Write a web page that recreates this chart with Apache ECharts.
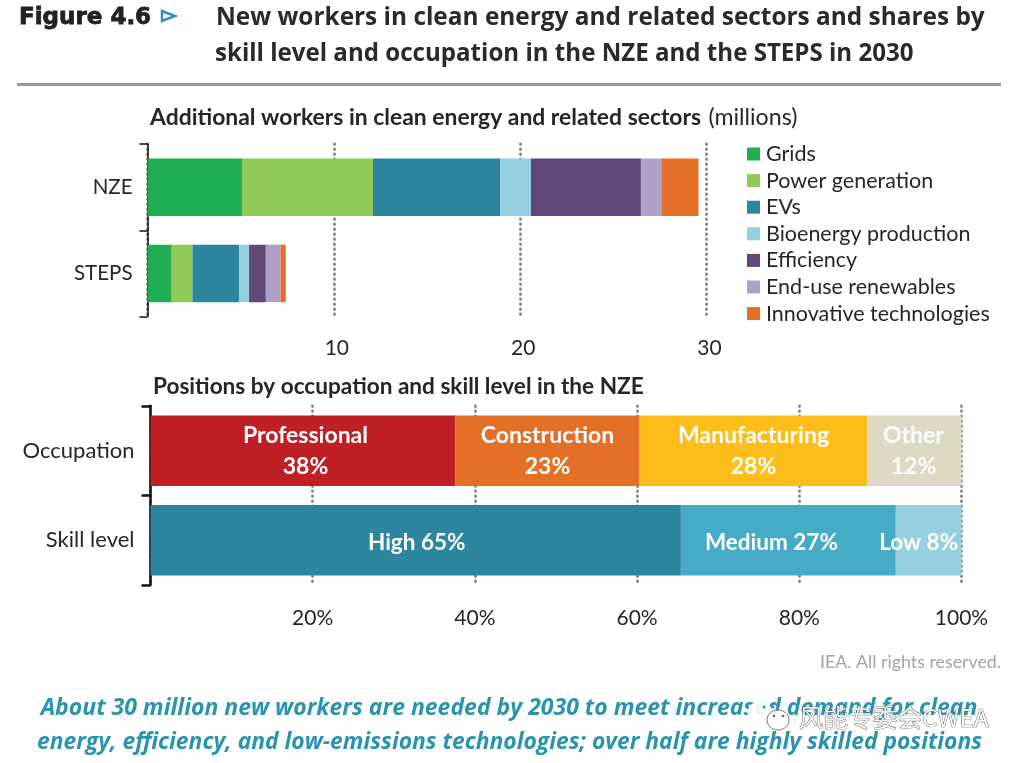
<!DOCTYPE html>
<html><head><meta charset="utf-8">
<style>html,body{margin:0;padding:0;background:#fff}#c{width:1024px;height:763px}</style>
<script src="https://cdn.jsdelivr.net/npm/echarts@6/dist/echarts.min.js"></script>
</head><body><div id="c"></div>
<script>
const scenarios = ['NZE', 'STEPS'];
const sectorNames = ['Grids','Power generation','EVs','Bioenergy production','Efficiency','End-use renewables','Innovative technologies'];
const sectorColors = ['#20AE53','#92CA57','#2B869E','#96CFE0','#604878','#B0A0C8','#E46F27'];
const grids = [5.07, 1.3];
const powerGeneration = [7.03, 1.11];
const evs = [6.82, 2.52];
const bioenergy = [1.66, 0.52];
const efficiency = [5.9, 0.9];
const endUse = [1.1, 0.79];
const innovative = [1.99, 0.28];
const sectorValues = [grids, powerGeneration, evs, bioenergy, efficiency, endUse, innovative];

const rows = ['Occupation', 'Skill level'];
const occupationNames = ['Professional','Construction','Manufacturing','Other'];
const occupationValues = [37.6, 22.7, 28.1, 11.6];
const occupationLabels = ['38%','23%','28%','12%'];
const occupationColors = ['#BE2025','#E46F27','#FDBD1B','#DDD9C4'];
const occupationLabelShift = [[2.5,0],[0,0],[0,0],[-1,0]];
const skillNames = ['High','Medium','Low'];
const skillValues = [65.4, 26.5, 8.1];
const skillLabels = ['65%','27%','8%'];
const skillColors = ['#2B869E','#45ABC6','#96CFE0'];
const skillLabelShift = [[1,2],[-17,2],[-10,2]];

const SANS = 'Lato, Carlito, sans-serif';
const HEAD = '"Open Sans", sans-serif';
const txt = '#262626';
const series = [];
sectorNames.forEach((n,i)=>series.push({
  type:'bar', name:n, stack:'top', xAxisIndex:0, yAxisIndex:0, barWidth:57.5,
  data:sectorValues[i], itemStyle:{color:sectorColors[i]}, silent:true
}));
occupationNames.forEach((n,i)=>series.push({
  type:'bar', name:n, stack:'occ', xAxisIndex:1, yAxisIndex:1, barWidth:70.5,
  data:[occupationValues[i], null], itemStyle:{color:occupationColors[i]}, silent:true,
  label:{show:true, position:'inside', offset:occupationLabelShift[i], color:'#fff', fontFamily:SANS, fontWeight:'bold', fontSize:23, lineHeight:31,
    formatter:p=>p.dataIndex===0 ? n+'\n'+occupationLabels[i] : ''}
}));
skillNames.forEach((n,i)=>series.push({
  type:'bar', name:n, stack:'occ', xAxisIndex:1, yAxisIndex:1, barWidth:70.5,
  data:[null, skillValues[i]], itemStyle:{color:skillColors[i]}, silent:true,
  label:{show:true, position:'inside', offset:skillLabelShift[i], color:'#fff', fontFamily:SANS, fontWeight:'bold', fontSize:22.5,
    formatter:p=>p.dataIndex===1 ? n+' '+skillLabels[i] : ''}
}));
const dots = {show:true, lineStyle:{color:'#858585', width:2.8, type:[0.6,4.4], cap:'round'}};
const chart = echarts.init(document.getElementById('c'));
chart.setOption({
  animation:false,
  backgroundColor:'#fff',
  legend:{data:sectorNames, orient:'vertical', left:742, top:138, itemWidth:13, itemHeight:13, itemGap:4.6,
    icon:'rect', selectedMode:false, textStyle:{fontFamily:SANS, fontSize:21.5, color:txt, padding:[0,0,0,1]}},
  grid:[{left:147.5, top:144, width:559, height:172.5},{left:150.5, top:406, width:811, height:179}],
  xAxis:[
    {gridIndex:0, type:'value', min:0, max:30, interval:10, axisLine:{show:false}, axisTick:{show:false}, splitLine:dots,
     axisLabel:{showMinLabel:false, fontFamily:SANS, fontSize:21, color:txt, margin:21, padding:[0,0,0,6]}},
    {gridIndex:1, type:'value', min:0, max:100, interval:20, axisLine:{show:false}, axisTick:{show:false}, splitLine:dots,
     axisLabel:{showMinLabel:false, formatter:'{value}%', fontFamily:SANS, fontSize:21, color:txt, margin:23}}
  ],
  yAxis:[
    {gridIndex:0, type:'category', inverse:true, data:scenarios, axisLine:{show:true, onZero:false, lineStyle:{color:'#111',width:1.5}},
     axisTick:{show:true, length:8, alignWithLabel:false, lineStyle:{color:'#111',width:1.5}}, axisLabel:{fontFamily:SANS, fontSize:20.5, color:txt, margin:15}},
    {gridIndex:1, type:'category', inverse:true, data:rows, axisLine:{show:true, onZero:false, lineStyle:{color:'#111',width:2.5}},
     axisTick:{show:true, length:9, alignWithLabel:false, lineStyle:{color:'#111',width:2.5}}, axisLabel:{fontFamily:SANS, fontSize:22, color:txt, margin:16}}
  ],
  series,
  graphic:[
    {type:'rect', shape:{x:17,y:83,width:984,height:3}, style:{fill:'#999'}},
    {type:'text', x:19, y:7, style:{text:'Figure 4.6', font:'bold 23px "DejaVu Sans"', fill:'#222', stroke:'#222', lineWidth:0.8}},
    {type:'polygon', shape:{points:[[162,11],[175,16],[162,21]]}, style:{fill:'#fff', stroke:'#2A93AD', lineWidth:2.5}},
    {type:'text', x:216, y:6, style:{text:'New workers in clean energy and related sectors and shares by', font:'bold 24.4px '+HEAD, fill:'#2a2a2a'}},
    {type:'text', x:215, y:42, style:{text:'skill level and occupation in the NZE and the STEPS in 2030', font:'bold 24.1px '+HEAD, fill:'#2a2a2a'}},
    {type:'text', x:150, y:106, style:{rich:{b:{fontFamily:SANS, fontWeight:'bold', fontSize:22.9, fill:txt},r:{fontFamily:SANS, fontSize:23.2, fill:txt, padding:[0,0,0,4]}}, text:'{b|Additional workers in clean energy and related sectors} {r|(millions)}'}},
    {type:'text', x:153, y:375, style:{text:'Positions by occupation and skill level in the NZE', font:'bold 22.6px '+SANS, fill:txt}},
    {type:'text', x:1001, y:653, style:{text:'IEA. All rights reserved.', font:'17.8px '+SANS, fill:'#a3a3a3', align:'right'}},
    {type:'text', x:509, y:697, style:{text:'About 30 million new workers are needed by 2030 to meet increased demand for clean', font:'italic bold 23px '+HEAD, fill:'#2A93AD', align:'center'}},
    {type:'text', x:509.5, y:731, style:{text:'energy, efficiency, and low-emissions technologies; over half are highly skilled positions', font:'italic bold 22.85px '+HEAD, fill:'#2A93AD', align:'center'}},
    {type:'ellipse', shape:{cx:760,cy:712,rx:12,ry:10}, style:{fill:'rgba(255,255,255,0.9)', stroke:'rgba(255,255,255,0.9)'}},
    {type:'ellipse', shape:{cx:778,cy:720,rx:11,ry:10}, style:{fill:'rgba(255,255,255,0.9)', stroke:'#555', lineWidth:0.8}},
    {type:'circle', shape:{cx:764,cy:707,r:1.5}, style:{fill:'#2A93AD'}},
    {type:'circle', shape:{cx:773,cy:707,r:1.5}, style:{fill:'#2A93AD'}},
    {type:'circle', shape:{cx:774,cy:716,r:1.3}, style:{fill:'#666'}},
    {type:'circle', shape:{cx:783,cy:716,r:1.3}, style:{fill:'#666'}},
    {type:'text', x:799, y:705, style:{text:'风能专委会CWEA', font:'24.6px "Noto Sans CJK SC"', fill:'rgba(255,255,255,0.85)', stroke:'#444', lineWidth:0.7}}
  ]
});
</script></body></html>
